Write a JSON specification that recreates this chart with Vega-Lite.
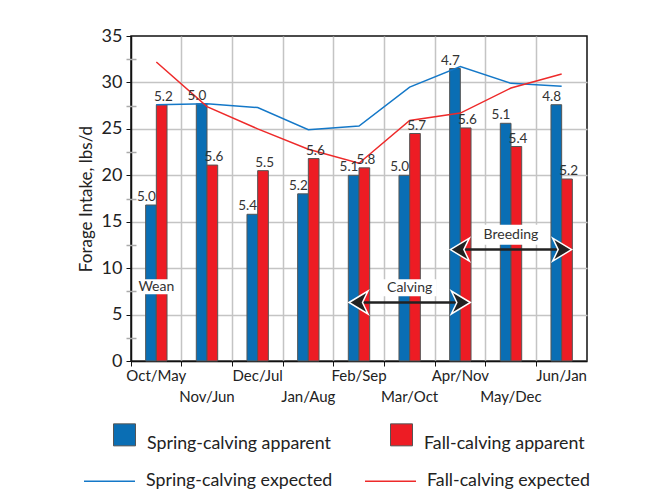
{
  "$schema": "https://vega.github.io/schema/vega-lite/v6.json",
  "width": 456,
  "height": 325,
  "autosize": {"type": "none"},
  "padding": {"left": 131, "top": 36, "right": 59, "bottom": 139},
  "background": "white",
  "config": {
    "font": "Lato",
    "view": {"stroke": "#111", "strokeWidth": 1.5}
  },
  "datasets": {
    "bars": [
      {"month": "Oct/May", "series": "Spring-calving apparent", "value": 16.8, "label": "5.0"},
      {"month": "Nov/Jun", "series": "Spring-calving apparent", "value": 27.7, "label": "5.0"},
      {"month": "Dec/Jul", "series": "Spring-calving apparent", "value": 15.8, "label": "5.4"},
      {"month": "Jan/Aug", "series": "Spring-calving apparent", "value": 18.0, "label": "5.2"},
      {"month": "Feb/Sep", "series": "Spring-calving apparent", "value": 20.0, "label": "5.1"},
      {"month": "Mar/Oct", "series": "Spring-calving apparent", "value": 20.0, "label": "5.0"},
      {"month": "Apr/Nov", "series": "Spring-calving apparent", "value": 31.5, "label": "4.7"},
      {"month": "May/Dec", "series": "Spring-calving apparent", "value": 25.6, "label": "5.1"},
      {"month": "Jun/Jan", "series": "Spring-calving apparent", "value": 27.6, "label": "4.8"},
      {"month": "Oct/May", "series": "Fall-calving apparent", "value": 27.6, "label": "5.2"},
      {"month": "Nov/Jun", "series": "Fall-calving apparent", "value": 21.1, "label": "5.6"},
      {"month": "Dec/Jul", "series": "Fall-calving apparent", "value": 20.5, "label": "5.5"},
      {"month": "Jan/Aug", "series": "Fall-calving apparent", "value": 21.8, "label": "5.6"},
      {"month": "Feb/Sep", "series": "Fall-calving apparent", "value": 20.8, "label": "5.8"},
      {"month": "Mar/Oct", "series": "Fall-calving apparent", "value": 24.5, "label": "5.7"},
      {"month": "Apr/Nov", "series": "Fall-calving apparent", "value": 25.1, "label": "5.6"},
      {"month": "May/Dec", "series": "Fall-calving apparent", "value": 23.1, "label": "5.4"},
      {"month": "Jun/Jan", "series": "Fall-calving apparent", "value": 19.6, "label": "5.2"}
    ],
    "lines": [
      {"month": "Oct/May", "series": "Spring-calving expected", "value": 27.6},
      {"month": "Nov/Jun", "series": "Spring-calving expected", "value": 27.7},
      {"month": "Dec/Jul", "series": "Spring-calving expected", "value": 27.3},
      {"month": "Jan/Aug", "series": "Spring-calving expected", "value": 24.9},
      {"month": "Feb/Sep", "series": "Spring-calving expected", "value": 25.3},
      {"month": "Mar/Oct", "series": "Spring-calving expected", "value": 29.5},
      {"month": "Apr/Nov", "series": "Spring-calving expected", "value": 31.7},
      {"month": "May/Dec", "series": "Spring-calving expected", "value": 29.9},
      {"month": "Jun/Jan", "series": "Spring-calving expected", "value": 29.6},
      {"month": "Oct/May", "series": "Fall-calving expected", "value": 32.2},
      {"month": "Nov/Jun", "series": "Fall-calving expected", "value": 27.4},
      {"month": "Dec/Jul", "series": "Fall-calving expected", "value": 25.0},
      {"month": "Jan/Aug", "series": "Fall-calving expected", "value": 22.8},
      {"month": "Feb/Sep", "series": "Fall-calving expected", "value": 21.3},
      {"month": "Mar/Oct", "series": "Fall-calving expected", "value": 25.9},
      {"month": "Apr/Nov", "series": "Fall-calving expected", "value": 26.7},
      {"month": "May/Dec", "series": "Fall-calving expected", "value": 29.4},
      {"month": "Jun/Jan", "series": "Fall-calving expected", "value": 30.9}
    ],
    "notes": [
      {"month": "Oct/May", "note": "Wean", "value": 8.0},
      {"month": "Mar/Oct", "note": "Calving", "value": 7.9},
      {"month": "May/Dec", "note": "Breeding", "value": 13.6}
    ],
    "spans": [
      {"month": "Feb/Sep", "to": "Apr/Nov", "value": 6.3},
      {"month": "Apr/Nov", "to": "Jun/Jan", "value": 12.0}
    ],
    "heads": [
      {"month": "Feb/Sep", "dir": "left", "value": 6.3},
      {"month": "Apr/Nov", "dir": "right", "value": 6.3},
      {"month": "Apr/Nov", "dir": "left", "value": 12.0},
      {"month": "Jun/Jan", "dir": "right", "value": 12.0}
    ]
  },
  "encoding": {
    "x": {
      "field": "month",
      "type": "nominal",
      "scale": {
        "domain": ["Oct/May", "Nov/Jun", "Dec/Jul", "Jan/Aug", "Feb/Sep", "Mar/Oct", "Apr/Nov", "May/Dec", "Jun/Jan"],
        "paddingInner": 0,
        "paddingOuter": 0
      },
      "axis": {
        "title": null,
        "bandPosition": 0,
        "labelAngle": 0,
        "labelOverlap": false,
        "labelExpr": "indexof(['Nov/Jun','Jan/Aug','Mar/Oct','May/Dec'], datum.value) >= 0 ? ['', datum.value] : datum.value",
        "labelFontSize": 15,
        "labelColor": "#222",
        "labelPadding": 2,
        "labelLineHeight": 21,
        "grid": true,
        "gridColor": "#c4c4c4",
        "gridWidth": 1.5,
        "gridOpacity": {"condition": {"test": "datum.value === 'Oct/May'", "value": 0}, "value": 1},
        "tickSize": 5,
        "tickColor": "#111",
        "domainColor": "#111",
        "domainWidth": 1.5
      }
    }
  },
  "resolve": {"axis": {"y": "independent"}, "scale": {"shape": "independent"}},
  "layer": [
    {
      "data": {"name": "bars"},
      "mark": {"type": "bar", "stroke": "#555", "strokeWidth": 1},
      "encoding": {
        "xOffset": {
          "field": "series",
          "type": "nominal",
          "scale": {"domain": ["pad-left", "Spring-calving apparent", "Fall-calving apparent", "pad-right"], "paddingInner": 0, "paddingOuter": 0.37}
        },
        "y": {
          "field": "value",
          "type": "quantitative",
          "scale": {"domain": [0, 35], "nice": false},
          "axis": {
            "orient": "left",
            "title": "Forage Intake, lbs/d",
            "titleFontSize": 17,
            "titleFontWeight": "normal",
            "titleColor": "#222",
            "titlePadding": 6,
            "values": [0, 5, 10, 15, 20, 25, 30, 35],
            "labelFontSize": 18,
            "labelColor": "#222",
            "labelPadding": 4,
            "tickSize": 5,
            "tickColor": "#111",
            "domainColor": "#111",
            "domainWidth": 1.5,
            "grid": true,
            "gridColor": "#c4c4c4",
            "gridWidth": 1.5,
            "gridOpacity": {"condition": {"test": "datum.value === 35", "value": 0}, "value": 1}
          }
        },
        "fill": {
          "field": "series",
          "type": "nominal",
          "scale": {"domain": ["Spring-calving apparent", "Fall-calving apparent"], "range": ["#0A6EB4", "#ED1C24"]},
          "legend": {
            "title": null,
            "orient": "none",
            "legendX": -18,
            "legendY": 387,
            "direction": "horizontal",
            "symbolType": "square",
            "symbolSize": 484,
            "symbolStrokeColor": "#555",
            "symbolStrokeWidth": 1,
            "symbolOpacity": 1,
            "labelFontSize": 17.8,
            "labelColor": "#222",
            "labelOffset": 11,
            "labelBaseline": "top",
            "labelLimit": 300,
            "columnPadding": 57,
            "padding": 0
          }
        }
      }
    },
    {
      "data": {"name": "notes"},
      "mark": {"type": "point", "filled": true, "fill": "white", "strokeWidth": 0, "opacity": 1, "size": 3600},
      "encoding": {
        "y": {"field": "value", "type": "quantitative", "axis": null},
        "shape": {
          "field": "note",
          "type": "nominal",
          "scale": {
            "domain": ["Wean", "Calving", "Breeding"],
            "range": [
              "M-0.55,-0.25 L0.55,-0.25 L0.55,0.25 L-0.55,0.25 Z",
              "M-0.9,-0.283 L0.9,-0.283 L0.9,0.283 L-0.9,0.283 Z",
              "M-1.3,-0.333 L1.3,-0.333 L1.3,0.333 L-1.3,0.333 Z"
            ]
          },
          "legend": null
        }
      }
    },
    {
      "data": {"name": "notes"},
      "mark": {"type": "text", "fontSize": 14, "color": "#333", "baseline": "middle"},
      "encoding": {
        "y": {"field": "value", "type": "quantitative", "axis": null},
        "text": {"field": "note"}
      }
    },
    {
      "data": {"name": "spans"},
      "mark": {"type": "rule", "color": "#222", "strokeWidth": 2.5},
      "encoding": {
        "x2": {"field": "to"},
        "y": {"field": "value", "type": "quantitative", "axis": null}
      }
    },
    {
      "data": {"name": "heads"},
      "mark": {"type": "point", "filled": true, "fill": "#222", "stroke": "white", "strokeWidth": 1.5, "opacity": 1, "size": 400},
      "encoding": {
        "y": {"field": "value", "type": "quantitative", "axis": null},
        "shape": {
          "field": "dir",
          "type": "nominal",
          "scale": {
            "domain": ["left", "right"],
            "range": [
              "M-1,0 L0.9,-1.15 L0.35,0 L0.9,1.15 Z",
              "M1,0 L-0.9,-1.15 L-0.35,0 L-0.9,1.15 Z"
            ]
          },
          "legend": null
        }
      }
    },
    {
      "data": {"name": "lines"},
      "mark": {"type": "line", "strokeWidth": 1.5},
      "encoding": {
        "y": {
          "field": "value",
          "type": "quantitative",
          "axis": {
            "orient": "left",
            "title": null,
            "values": [2.5, 7.5, 12.5, 17.5, 22.5, 27.5, 32.5],
            "labels": false,
            "domain": false,
            "grid": false,
            "offset": -5,
            "tickSize": 10,
            "tickColor": "#aaa",
            "tickWidth": 1.5
          }
        },
        "stroke": {
          "field": "series",
          "type": "nominal",
          "scale": {"domain": ["Spring-calving expected", "Fall-calving expected"], "range": ["#1478C8", "#EE2A2A"]},
          "legend": {
            "title": null,
            "orient": "none",
            "legendX": -48,
            "legendY": 418.5,
            "direction": "horizontal",
            "symbolType": "stroke",
            "symbolSize": 2601,
            "symbolStrokeWidth": 1.5,
            "labelFontSize": 17.8,
            "labelColor": "#222",
            "labelOffset": 10,
            "labelBaseline": "middle",
            "labelLimit": 300,
            "columnPadding": 29,
            "padding": 0
          }
        }
      }
    },
    {
      "data": {"name": "bars"},
      "transform": [{"filter": "datum.series === 'Spring-calving apparent'"}],
      "mark": {"type": "text", "fontSize": 13.5, "color": "#333", "baseline": "bottom", "dx": -10, "dy": -1},
      "encoding": {
        "y": {"field": "value", "type": "quantitative", "axis": null},
        "text": {"field": "label"}
      }
    },
    {
      "data": {"name": "bars"},
      "transform": [{"filter": "datum.series === 'Fall-calving apparent'"}],
      "mark": {"type": "text", "fontSize": 13.5, "color": "#333", "baseline": "bottom", "dx": 7, "dy": -1},
      "encoding": {
        "y": {"field": "value", "type": "quantitative", "axis": null},
        "text": {"field": "label"}
      }
    }
  ]
}
